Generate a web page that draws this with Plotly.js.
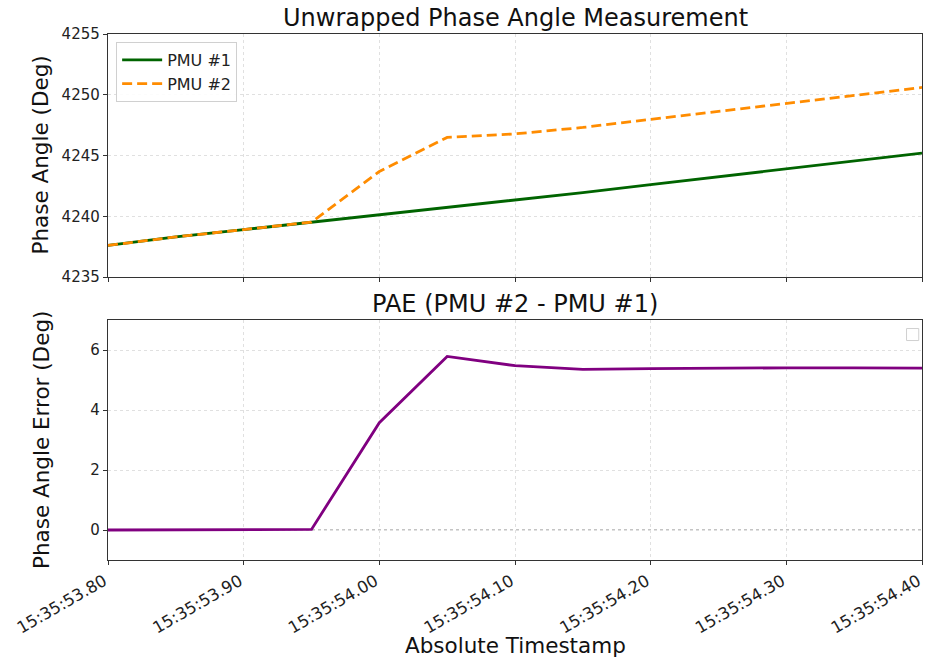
<!DOCTYPE html>
<html>
<head>
<meta charset="utf-8">
<script src="https://cdn.plot.ly/plotly-3.0.1.min.js"></script>
<style>html,body{margin:0;padding:0;background:#fff;}#chart{width:935px;height:657px;}</style>
</head>
<body>
<div id="chart"></div>
<script>
// ---- data ----
const timestamps = [
  '2023-01-01 15:35:53.80','2023-01-01 15:35:53.85','2023-01-01 15:35:53.90','2023-01-01 15:35:53.95',
  '2023-01-01 15:35:54.00','2023-01-01 15:35:54.05','2023-01-01 15:35:54.10','2023-01-01 15:35:54.15',
  '2023-01-01 15:35:54.20','2023-01-01 15:35:54.25','2023-01-01 15:35:54.30','2023-01-01 15:35:54.35',
  '2023-01-01 15:35:54.40'
];
const pmu1 = [4237.6, 4238.3, 4238.9, 4239.5, 4240.1, 4240.7, 4241.3, 4241.95, 4242.6, 4243.25, 4243.9, 4244.55, 4245.2];
const pmu2 = [4237.6, 4238.3, 4238.9, 4239.52, 4243.68, 4246.49, 4246.78, 4247.31, 4247.98, 4248.65, 4249.31, 4249.96, 4250.6];
const pae  = [0, 0, 0, 0.02, 3.58, 5.79, 5.48, 5.36, 5.38, 5.40, 5.41, 5.41, 5.40];
const xRange = ['2023-01-01 15:35:53.80', '2023-01-01 15:35:54.40'];
const xTickVals = ['2023-01-01 15:35:53.80','2023-01-01 15:35:53.90','2023-01-01 15:35:54.00',
  '2023-01-01 15:35:54.10','2023-01-01 15:35:54.20','2023-01-01 15:35:54.30','2023-01-01 15:35:54.40'];
const xTickText = ['15:35:53.80','15:35:53.90','15:35:54.00','15:35:54.10','15:35:54.20','15:35:54.30','15:35:54.40'];
const yTopTicks = [4235, 4240, 4245, 4250, 4255];
const yBotTicks = [0, 2, 4, 6];

const FONT = 'DejaVu Sans, sans-serif';
const traces = [
  {x: timestamps, y: pmu1, name: 'PMU #1', mode: 'lines', xaxis: 'x', yaxis: 'y',
   line: {color: '#006400', width: 2.8}},
  {x: timestamps, y: pmu2, name: 'PMU #2', mode: 'lines', xaxis: 'x', yaxis: 'y',
   line: {color: '#ff8c00', width: 2.8, dash: '10px,5px'}},
  {x: timestamps, y: pae, name: 'PAE', mode: 'lines', xaxis: 'x2', yaxis: 'y2', showlegend: false,
   line: {color: '#800080', width: 2.8}}
];

const axCommon = {
  showline: true, mirror: true, linecolor: '#333', linewidth: 1.2,
  ticks: 'outside', ticklen: 4, tickcolor: '#333',
  showgrid: true, gridcolor: '#e0e0e0', griddash: 'dot', gridwidth: 1,
  zeroline: false, tickfont: {family: FONT, size: 15, color: '#222'}
};
const xCommon = Object.assign({}, axCommon, {
  type: 'date', range: xRange, tickmode: 'array', tickvals: xTickVals, ticktext: xTickText
});

const layout = {
  width: 935, height: 657,
  margin: {l: 108, r: 13, t: 34, b: 97},
  paper_bgcolor: '#fff', plot_bgcolor: '#fff',
  font: {family: FONT, color: '#222'},
  showlegend: true,
  legend: {x: 0.01, y: 0.985, xanchor: 'left', yanchor: 'top', itemwidth: 40,
    bgcolor: 'rgba(255,255,255,0.9)', bordercolor: '#d0d0d0', borderwidth: 1,
    font: {family: FONT, size: 16, color: '#222'}, tracegroupgap: 2},
  xaxis: Object.assign({}, xCommon, {anchor: 'y', domain: [0, 1], showticklabels: false, matches: 'x2'}),
  yaxis: Object.assign({}, axCommon, {anchor: 'x', domain: [0.538, 1], range: [4235, 4255],
    tickvals: yTopTicks}),
  xaxis2: Object.assign({}, xCommon, {anchor: 'y2', domain: [0, 1], tickangle: -30,
    ticklabelshift: -4, tickfont: {family: FONT, size: 16.5, color: '#222'}}),
  yaxis2: Object.assign({}, axCommon, {anchor: 'x2', domain: [0, 0.456], range: [-1, 7],
    tickvals: yBotTicks}),
  shapes: [
    {type: 'line', xref: 'x2 domain', yref: 'y2', x0: 0, x1: 1, y0: 0, y1: 0,
     line: {color: '#888', width: 1, dash: 'dot'}, layer: 'below'},
    {type: 'rect', xref: 'x2 domain', yref: 'y2 domain', x0: 0.981, x1: 0.996, y0: 0.915, y1: 0.965,
     line: {color: '#d0d0d0', width: 1}, fillcolor: 'rgba(255,255,255,0.9)'}
  ],
  annotations: [
    {text: 'Unwrapped Phase Angle Measurement', xref: 'paper', yref: 'paper', x: 0.5, y: 1,
     xanchor: 'center', yanchor: 'bottom', yshift: 0, showarrow: false,
     font: {family: FONT, size: 24, color: '#111'}},
    {text: 'PAE (PMU #2 - PMU #1)', xref: 'paper', yref: 'paper', x: 0.5, y: 0.456,
     xanchor: 'center', yanchor: 'bottom', yshift: 0, showarrow: false,
     font: {family: FONT, size: 24, color: '#111'}},
    {text: 'Phase Angle (Deg)', xref: 'paper', yref: 'paper', x: 0, y: 0.769, xshift: -67,
     xanchor: 'center', yanchor: 'middle', textangle: -90, showarrow: false,
     font: {family: FONT, size: 21.5, color: '#111'}},
    {text: 'Phase Angle Error (Deg)', xref: 'paper', yref: 'paper', x: 0, y: 0.228, xshift: -67,
     xanchor: 'center', yanchor: 'middle', textangle: -90, showarrow: false,
     font: {family: FONT, size: 21.5, color: '#111'}},
    {text: 'Absolute Timestamp', xref: 'paper', yref: 'paper', x: 0.5, y: 0, yshift: -85,
     xanchor: 'center', yanchor: 'middle', showarrow: false,
     font: {family: FONT, size: 21.5, color: '#111'}}
  ]
};

Plotly.newPlot('chart', traces, layout, {displayModeBar: false, staticPlot: true});
</script>
</body>
</html>
